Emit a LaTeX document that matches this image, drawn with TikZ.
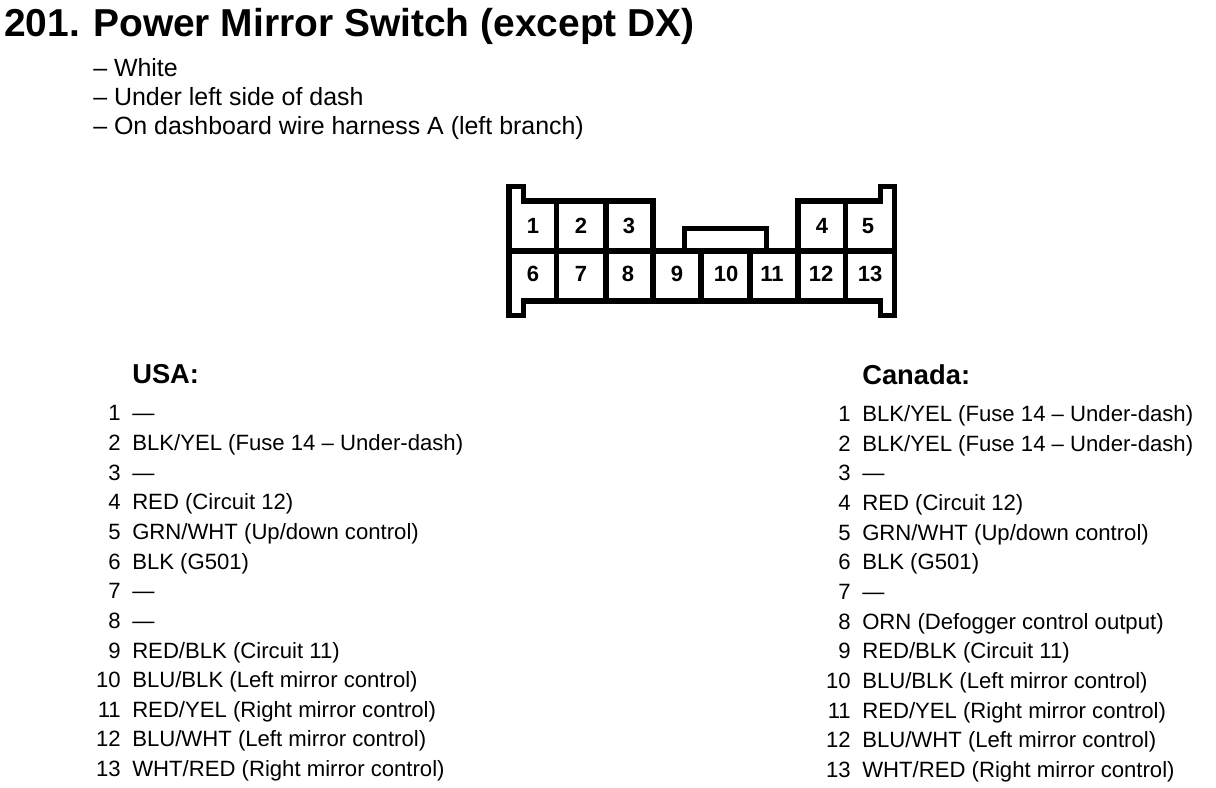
\documentclass[tikz,border=0pt]{standalone}
\usepackage{fontspec}
\setmainfont{Liberation Sans}
\begin{document}
\begin{tikzpicture}[x=0.75pt,y=-0.75pt,
  outline/.style={line width=4.1pt,line join=miter,line cap=rect},
  title/.style={anchor=base west,inner sep=0pt,font=\fontsize{29.2pt}{32pt}\bfseries\selectfont},
  head/.style={anchor=base west,inner sep=0pt,font=\fontsize{20.5pt}{24pt}\bfseries\selectfont},
  intro/.style={anchor=base west,inner sep=0pt,font=\fontsize{18.7pt}{22pt}\selectfont},
  body/.style={anchor=base west,inner sep=0pt,font=\fontsize{16.6pt}{20pt}\selectfont},
  num/.style={anchor=base east,inner sep=0pt,font=\fontsize{16.6pt}{20pt}\selectfont},
  pin/.style={anchor=center,inner sep=0pt,font=\fontsize{16.5pt}{18pt}\bfseries\selectfont}]
\useasboundingbox (0,0) rectangle (1216,788);
\node[title] (t) at (4,36.5) {201.};
\node[title] (t2) at (93,36.5) {Power Mirror Switch (except DX)};
\node[intro] (n1) at (93,77) {– White};
\node[intro] (n2) at (93,106) {– Under left side of dash};
\node[intro] (n3) at (93,135) {– On dashboard wire harness A (left branch)};
% connector
\draw[outline] (509,186.5) -- (523.5,186.5) -- (523.5,201) -- (653,201) -- (653,251) -- (798,251) -- (798,201) -- (880.5,201) -- (880.5,186.5) -- (894.5,186.5) -- (894.5,315.5) -- (880.5,315.5) -- (880.5,301) -- (523.5,301) -- (523.5,315.5) -- (509,315.5) -- cycle;
\draw[outline] (509,251) -- (894.5,251);
\draw[outline] (684.5,251) -- (684.5,228.5) -- (766.5,228.5) -- (766.5,251);
\foreach \x in {556.5,606,845.5} \draw[outline] (\x,201) -- (\x,301);
\foreach \x in {653,701,750,798} \draw[outline] (\x,251) -- (\x,301);
\foreach \n/\x/\y in {1/533/226,2/581/226,3/629/226,4/822/226,5/868/226,6/533/274,7/581/274,8/628/274,9/677/274,10/726/274,11/772/274,12/821/274,13/870/274}
  \node[pin] (p\n) at (\x,\y) {\n};
% lists
\node[head] (usa) at (132,383) {USA:};
\node[head] (can) at (862,384) {Canada:};
\foreach \n/\t [count=\i from 0] in {1/—,2/{BLK/YEL (Fuse 14 – Under-dash)},3/—,4/RED (Circuit 12),5/{GRN/WHT (Up/down control)},6/BLK (G501),7/—,8/—,9/{RED/BLK (Circuit 11)},10/{BLU/BLK (Left mirror control)},11/{RED/YEL (Right mirror control)},12/{BLU/WHT (Left mirror control)},13/{WHT/RED (Right mirror control)}}{
  \node[num] (un\n) at (121,{420.8+29.65*\i}) {\n};
  \node[body] (ut\n) at (132,{420.8+29.65*\i}) {\t};
}
\foreach \n/\t [count=\i from 0] in {1/{BLK/YEL (Fuse 14 – Under-dash)},2/{BLK/YEL (Fuse 14 – Under-dash)},3/—,4/RED (Circuit 12),5/{GRN/WHT (Up/down control)},6/BLK (G501),7/—,8/ORN (Defogger control output),9/{RED/BLK (Circuit 11)},10/{BLU/BLK (Left mirror control)},11/{RED/YEL (Right mirror control)},12/{BLU/WHT (Left mirror control)},13/{WHT/RED (Right mirror control)}}{
  \node[num] (cn\n) at (851,{421.5+29.65*\i}) {\n};
  \node[body] (ct\n) at (862,{421.5+29.65*\i}) {\t};
}
\end{tikzpicture}
\end{document}
